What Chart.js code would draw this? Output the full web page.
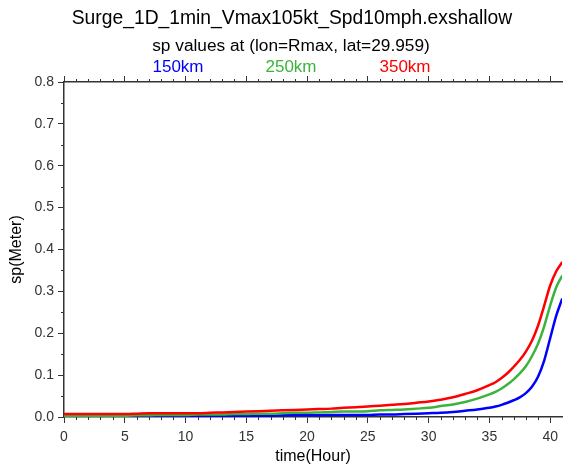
<!DOCTYPE html>
<html>
<head>
<meta charset="utf-8">
<script src="https://cdn.jsdelivr.net/npm/chart.js@4.4.1/dist/chart.umd.min.js"></script>
<style>
  html, body { margin: 0; padding: 0; background: #fff; }
  #wrap { position: relative; width: 564px; height: 467px; }
</style>
</head>
<body>
<div id="wrap"><canvas id="chart"></canvas></div>
<script>
// Titles and labels
const titleText = 'Surge_1D_1min_Vmax105kt_Spd10mph.exshallow';
const subtitleText = 'sp values at (lon=Rmax, lat=29.959)';
const seriesNames = ['150km', '250km', '350km'];
const seriesColors = ['#0000ff', '#3cb43c', '#ff0000'];
const xAxisTitle = 'time(Hour)';
const yAxisTitle = 'sp(Meter)';

// time (hours)
const hours = [
  0, 1, 2, 3, 4, 5, 6, 7, 8, 9, 10, 11, 12, 13, 14, 15, 16, 17, 18, 19, 20,
  21, 22, 23, 24, 25, 26, 27, 28, 29, 30, 31, 32, 33, 34, 35, 35.5, 36, 36.5,
  37, 37.5, 38, 38.5, 39, 39.5, 40, 40.5, 41
];

// sp (m) at each hour
const sp150 = [
  0.002, 0.002, 0.002, 0.002, 0.002, 0.002, 0.002, 0.002, 0.002, 0.002, 0.002,
  0.002, 0.002, 0.002, 0.003, 0.003, 0.003, 0.003, 0.004, 0.004, 0.004,
  0.004, 0.005, 0.005, 0.005, 0.005, 0.006, 0.006, 0.007, 0.008, 0.009,
  0.010, 0.012, 0.015, 0.018, 0.022, 0.025, 0.029, 0.034,
  0.040, 0.047, 0.057, 0.072, 0.096, 0.134, 0.188, 0.242, 0.283
];
const sp250 = [
  0.003, 0.003, 0.003, 0.003, 0.003, 0.003, 0.004, 0.004, 0.005, 0.005, 0.005,
  0.006, 0.006, 0.006, 0.007, 0.007, 0.008, 0.008, 0.009, 0.010, 0.010,
  0.011, 0.012, 0.013, 0.013, 0.014, 0.016, 0.017, 0.018, 0.020, 0.022,
  0.026, 0.030, 0.036, 0.044, 0.054, 0.060, 0.068, 0.078,
  0.090, 0.104, 0.121, 0.145, 0.175, 0.216, 0.266, 0.310, 0.338
];
const sp350 = [
  0.007, 0.007, 0.007, 0.007, 0.007, 0.007, 0.008, 0.009, 0.009, 0.009, 0.009,
  0.009, 0.010, 0.011, 0.012, 0.013, 0.014, 0.015, 0.016, 0.017, 0.018,
  0.019, 0.020, 0.022, 0.023, 0.025, 0.027, 0.029, 0.031, 0.034, 0.037,
  0.041, 0.047, 0.055, 0.064, 0.076, 0.083, 0.093, 0.105,
  0.120, 0.136, 0.156, 0.182, 0.218, 0.265, 0.314, 0.348, 0.370
];

const xMin = 0, xMax = 40.98, xStep = 5, xMinorStep = 1;
const yMin = 0, yMax = 0.8, yStep = 0.1, yMinorStep = 0.05;

const axisColor = '#333';
const fontFamily = '"Liberation Sans", Arial, Helvetica, sans-serif';

function toPoints(values) {
  return values.map((v, i) => ({ x: hours[i], y: v }));
}

// Headline text and coloured series names above the plot
const headerPlugin = {
  id: 'header',
  afterDraw(chart) {
    const ctx = chart.ctx;
    ctx.save();
    ctx.textAlign = 'center';
    ctx.textBaseline = 'middle';
    ctx.fillStyle = '#000';
    ctx.font = '19.3px ' + fontFamily;
    ctx.fillText(titleText, 292, 19);
    ctx.font = '17.3px ' + fontFamily;
    ctx.fillText(subtitleText, 291, 46);
    const centers = [178, 291, 405];
    ctx.font = '17px ' + fontFamily;
    seriesNames.forEach((name, i) => {
      ctx.fillStyle = seriesColors[i];
      ctx.fillText(name, centers[i], 67);
    });
    ctx.restore();
  }
};

// Minor tick marks, placed with the chart's own scales
const minorTicksPlugin = {
  id: 'minorTicks',
  afterDraw(chart) {
    const ctx = chart.ctx;
    const { top, bottom, left } = chart.chartArea;
    const xs = chart.scales.x;
    const ys = chart.scales.y;
    ctx.save();
    ctx.strokeStyle = axisColor;
    ctx.lineWidth = 1;
    ctx.beginPath();
    for (let v = xMin; v <= xMax; v += xMinorStep) {
      if (v % xStep === 0) continue;
      const px = Math.round(xs.getPixelForValue(v)) + 0.5;
      ctx.moveTo(px, bottom);
      ctx.lineTo(px, bottom + 3);
      ctx.moveTo(px, top);
      ctx.lineTo(px, top - 3);
    }
    for (let k = 1; k * yMinorStep < yMax; k += 2) {
      const py = Math.round(ys.getPixelForValue(k * yMinorStep)) + 0.5;
      ctx.moveTo(left, py);
      ctx.lineTo(left - 3, py);
    }
    ctx.stroke();
    ctx.restore();
  }
};

function makeDataset(label, values, color, order) {
  return {
    label: label,
    data: toPoints(values),
    borderColor: color,
    backgroundColor: color,
    borderWidth: 2.5,
    pointRadius: 0,
    cubicInterpolationMode: 'monotone',
    fill: false,
    order: order
  };
}

const ctx = document.getElementById('chart');
new Chart(ctx, {
  type: 'line',
  data: {
    datasets: [
      makeDataset(seriesNames[0], sp150, seriesColors[0], 3),
      makeDataset(seriesNames[1], sp250, seriesColors[1], 2),
      makeDataset(seriesNames[2], sp350, seriesColors[2], 1)
    ]
  },
  options: {
    responsive: true,
    maintainAspectRatio: false,
    animation: false,
    layout: { padding: { top: 82, left: 0, right: 0, bottom: 0 } },
    plugins: {
      legend: { display: false },
      title: { display: false },
      tooltip: { enabled: false }
    },
    scales: {
      x: {
        type: 'linear',
        position: 'bottom',
        min: xMin,
        max: xMax,
        afterFit: (scale) => { scale.height = 50; },
        border: { color: axisColor, width: 1.5 },
        grid: { drawOnChartArea: false, tickLength: 6, color: axisColor, tickColor: axisColor },
        ticks: {
          stepSize: xStep,
          includeBounds: false,
          maxRotation: 0,
          padding: 6,
          color: '#333',
          font: { family: fontFamily, size: 14 }
        },
        title: {
          display: true,
          text: xAxisTitle,
          color: '#000',
          font: { family: fontFamily, size: 16 },
          padding: { top: 0, bottom: 1 }
        }
      },
      x2: {
        type: 'linear',
        position: 'top',
        min: xMin,
        max: xMax,
        afterFit: (scale) => { scale.height = 0; },
        border: { color: axisColor, width: 1.5 },
        grid: { drawOnChartArea: false, tickLength: 6, color: axisColor, tickColor: axisColor },
        ticks: { stepSize: xStep, includeBounds: false, display: false }
      },
      y: {
        type: 'linear',
        position: 'left',
        min: yMin,
        max: yMax,
        afterFit: (scale) => { scale.width = 64; },
        border: { color: axisColor, width: 1.5 },
        grid: { drawOnChartArea: false, tickLength: 6, color: axisColor, tickColor: axisColor },
        ticks: {
          stepSize: yStep,
          padding: 4,
          color: '#333',
          font: { family: fontFamily, size: 14 },
          callback: (v) => v.toFixed(1)
        },
        title: {
          display: true,
          text: yAxisTitle,
          color: '#000',
          font: { family: fontFamily, size: 16 },
          padding: { top: 7, bottom: 0 }
        }
      }
    }
  },
  plugins: [headerPlugin, minorTicksPlugin]
});
</script>
</body>
</html>
